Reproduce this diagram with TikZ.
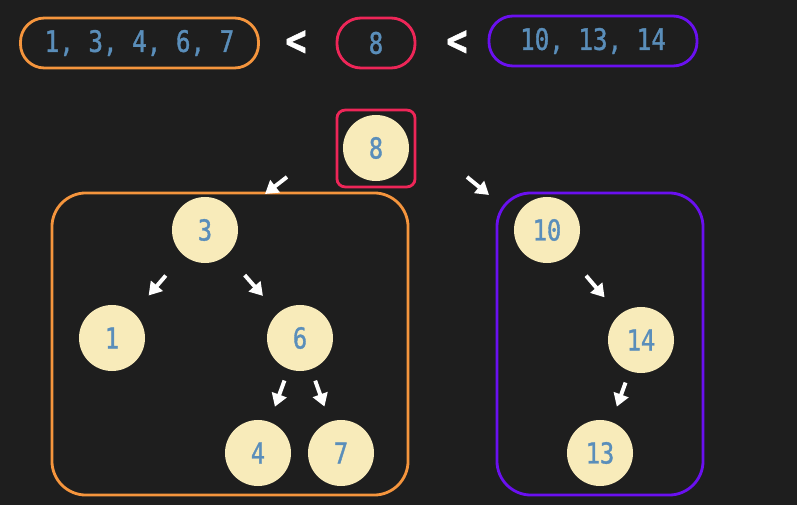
\documentclass[tikz,border=0pt]{standalone}
\usepackage{fontspec}
\usepackage{tikz}
\usetikzlibrary{arrows.meta, positioning}
\newfontfamily\codefont[FakeStretch=0.82, FakeBold=1.2]{DejaVu Sans Mono}
\definecolor{cBack}{HTML}{1E1E1E}
\definecolor{cCream}{HTML}{F8EBBA}
\definecolor{cText}{HTML}{5A8EBA}
\definecolor{cOrange}{HTML}{F5953D}
\definecolor{cRed}{HTML}{EE2658}
\definecolor{cPurple}{HTML}{6A10F0}
\tikzset{
	treenode/.style={circle, fill=cCream, minimum size=1.65cm, inner sep=0pt, text=cText, font=\codefont\fontsize{20.5}{22}\selectfont},
	pill/.style={rectangle, rounded corners=0.6cm, line width=2pt, minimum height=1.25cm, inner sep=0pt, text=cText, font=\codefont\fontsize{21}{22}\selectfont},
	group/.style={rectangle, rounded corners=0.85cm, line width=2pt, minimum height=7.55cm, inner sep=0pt},
	lessthan/.style={text=white, font=\codefont\bfseries\fontsize{31}{32}\selectfont},
	pointer/.style={draw=white, line width=2.8pt, -{Triangle[length=0.32cm, width=0.38cm]}},
	longptr/.style={pointer, shorten <=0.67cm, shorten >=0.57cm},
	shortptr/.style={pointer, shorten <=0.3cm, shorten >=0.4cm},
}
\begin{document}
\begin{tikzpicture}[x=0.025cm, y=-0.025cm]
	\fill[cBack] (0,0) rectangle (797,505);
	\useasboundingbox (0,0) rectangle (797,505);
	% ordering on top
	\node[pill, draw=cOrange, minimum width=5.95cm] (lset) at (139.5,43) {1, 3, 4, 6, 7};
	\node[lessthan] (lt1) at (296,43) {<};
	\node[pill, draw=cRed, minimum width=1.95cm] (root) at (376,43) {8};
	\node[lessthan] (lt2) at (457,43) {<};
	\node[pill, draw=cPurple, minimum width=5.2cm] (rset) at (593,41) {10, 13, 14};
	% tree
	\node[treenode] (n8) at (376,148) {8};
	\node[draw=cRed, line width=2pt, rounded corners=0.2cm, minimum width=1.95cm, minimum height=1.92cm] (rootbox) at (376,148.5) {};
	\node[group, draw=cOrange, minimum width=8.9cm] (lbox) at (230,344) {};
	\node[group, draw=cPurple, minimum width=5.15cm] (rbox) at (600,344) {};
	\node[treenode] (n3) at (205,230) {3};
	\node[treenode] (n1) at (112,338) {1};
	\node[treenode] (n6) at (300,338) {6};
	\node[treenode] (n4) at (258,453) {4};
	\node[treenode] (n7) at (341,453) {7};
	\node[treenode] (n10) at (547,230) {10};
	\node[treenode] (n14) at (641,340) {14};
	\node[treenode] (n13) at (600,453) {13};
	% arrows
	\coordinate (l1) at (287,177);
	\coordinate (l2) at (265,194);
	\coordinate (r1) at (467,177);
	\coordinate (r2) at (489,195);
	\draw[pointer] (l1) -- (l2);
	\draw[pointer] (r1) -- (r2);
	\draw[longptr] (n3) -- (n1);
	\draw[longptr] (n3) -- (n6);
	\draw[shortptr] (n6) -- (n4);
	\draw[shortptr] (n6) -- (n7);
	\draw[longptr] (n10) -- (n14);
	\draw[shortptr] (n14) -- (n13);
\end{tikzpicture}
\end{document}
